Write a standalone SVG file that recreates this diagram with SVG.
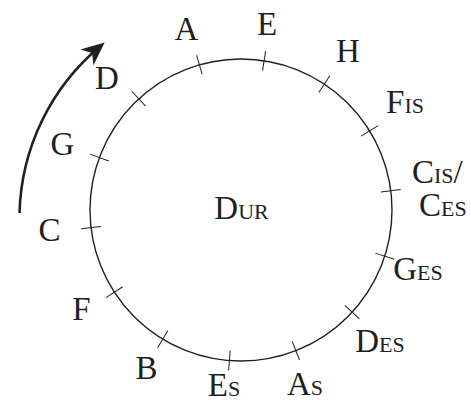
<svg xmlns="http://www.w3.org/2000/svg" width="471" height="403" viewBox="0 0 471 403">
  <style>
    text { font-family: "Liberation Serif", "Times New Roman", serif; font-size: 33px; fill: #231f20; font-variant: small-caps; }
    .sc { font-size: 32px; }
    .c { text-anchor: middle; }
    .tick { stroke: #231f20; stroke-width: 1; fill: none; }
    .ring { stroke: #231f20; stroke-width: 1.4; fill: none; }
    .arrow { stroke: #231f20; stroke-width: 2.6; fill: none; }
  </style>
  <defs>
    <marker id="head" markerUnits="userSpaceOnUse" markerWidth="30" markerHeight="30" viewBox="-16 -10 22 20" refX="0" refY="0" orient="auto" overflow="visible">
      <path d="M4,0 L-13,-7.5 L-8,0 L-13,7.5 Z" fill="#231f20"/>
    </marker>
  </defs>
  <g id="circle">
    <circle class="ring" cx="241" cy="210" r="151"/>
  </g>
  <g id="title"><text class="c" x="241.5" y="219">D<tspan class="sc">ur</tspan></text></g>
  <g id="node-E"><line class="tick" x1="241" y1="49" x2="241" y2="69" transform="rotate(8.8 241 210)"/><text class="c" x="267" y="35">E</text></g>
  <g id="node-H"><line class="tick" x1="241" y1="49" x2="241" y2="69" transform="rotate(33.5 241 210)"/><text class="c" x="348" y="62">H</text></g>
  <g id="node-Fis"><line class="tick" x1="241" y1="49" x2="241" y2="69" transform="rotate(58.4 241 210)"/><text class="c" x="405" y="112.5">F<tspan class="sc">is</tspan></text></g>
  <g id="node-Cis"><line class="tick" x1="241" y1="49" x2="241" y2="69" transform="rotate(82.7 241 210)"/><text><tspan x="412" y="183">C<tspan class="sc">is</tspan>/</tspan><tspan x="419" y="216">C<tspan class="sc">es</tspan></tspan></text></g>
  <g id="node-Ges"><line class="tick" x1="241" y1="49" x2="241" y2="69" transform="rotate(107.8 241 210)"/><text class="c" x="418" y="280">G<tspan class="sc">es</tspan></text></g>
  <g id="node-Des"><line class="tick" x1="241" y1="49" x2="241" y2="69" transform="rotate(132.6 241 210)"/><text class="c" x="380" y="351.5">D<tspan class="sc">es</tspan></text></g>
  <g id="node-As"><line class="tick" x1="241" y1="49" x2="241" y2="69" transform="rotate(158.7 241 210)"/><text class="c" x="305" y="395">A<tspan class="sc">s</tspan></text></g>
  <g id="node-Es"><line class="tick" x1="241" y1="49" x2="241" y2="69" transform="rotate(184.4 241 210)"/><text class="c" x="224" y="395.5">E<tspan class="sc">s</tspan></text></g>
  <g id="node-B"><line class="tick" x1="241" y1="49" x2="241" y2="69" transform="rotate(211.2 241 210)"/><text class="c" x="146.5" y="379">B</text></g>
  <g id="node-F"><line class="tick" x1="241" y1="49" x2="241" y2="69" transform="rotate(237 241 210)"/><text class="c" x="81.5" y="320">F</text></g>
  <g id="node-C"><line class="tick" x1="241" y1="49" x2="241" y2="69" transform="rotate(263.3 241 210)"/><text class="c" x="49.5" y="240.5">C</text></g>
  <g id="node-G"><line class="tick" x1="241" y1="49" x2="241" y2="69" transform="rotate(290.3 241 210)"/><text class="c" x="62.5" y="155">G</text></g>
  <g id="node-D"><line class="tick" x1="241" y1="49" x2="241" y2="69" transform="rotate(317.4 241 210)"/><text class="c" x="107" y="89">D</text></g>
  <g id="node-A"><line class="tick" x1="241" y1="49" x2="241" y2="69" transform="rotate(344 241 210)"/><text class="c" x="186.5" y="40">A</text></g>
  <g id="connectors">
    <path class="arrow" d="M19.5,213 A225,225 0 0 1 100.5,46" marker-end="url(#head)"/>
  </g>
</svg>
